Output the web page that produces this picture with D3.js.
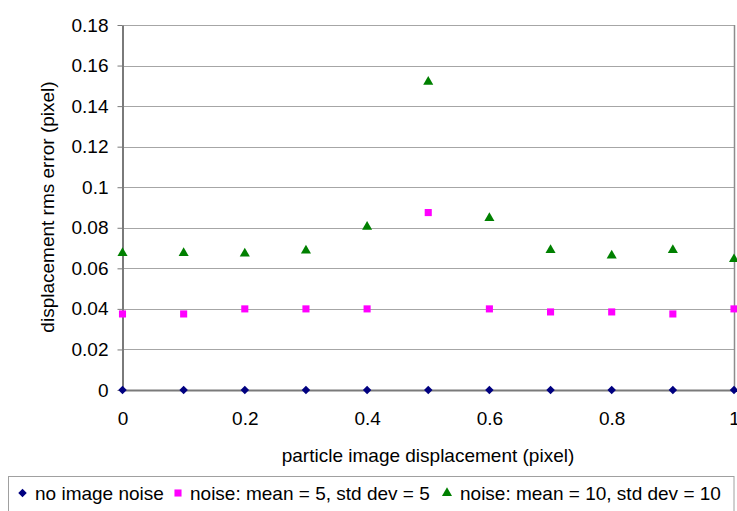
<!DOCTYPE html>
<html>
<head>
<meta charset="utf-8">
<script src="https://cdn.jsdelivr.net/npm/d3@7"></script>
<style>
  html, body { margin: 0; padding: 0; background: #fff; }
  svg { display: block; font-family: "Liberation Sans", Arial, sans-serif; }
</style>
</head>
<body>
<svg id="chart" width="737" height="511"></svg>
<script>
// Displacement values (pixel) along the x axis
const displacement = [0, 0.1, 0.2, 0.3, 0.4, 0.5, 0.6, 0.7, 0.8, 0.9, 1.0];

// RMS error for each noise condition
const noImageNoise = [0, 0, 0, 0, 0, 0, 0, 0, 0, 0, 0];
const noiseMean5   = [0.0375, 0.0375, 0.0400, 0.0400, 0.0400, 0.0875, 0.0400, 0.0385, 0.0385, 0.0375, 0.0400];
const noiseMean10  = [0.0675, 0.0675, 0.0673, 0.0688, 0.0805, 0.1520, 0.0848, 0.0690, 0.0663, 0.0690, 0.0645];

const seriesNames = ["no image noise", "noise: mean = 5, std dev = 5", "noise: mean = 10, std dev = 10"];

const yTicks = [0, 0.02, 0.04, 0.06, 0.08, 0.1, 0.12, 0.14, 0.16, 0.18];
const xTicks = [0, 0.2, 0.4, 0.6, 0.8, 1];

const svg = d3.select("#chart");
const fontSize = 19;

const x = d3.scaleLinear().domain([0, 1]).range([122.5, 734]);
const y = d3.scaleLinear().domain([0, 0.18]).range([390, 25]);

// Horizontal gridlines
svg.append("g")
  .selectAll("line")
  .data(yTicks.filter(d => d > 0))
  .join("line")
  .attr("x1", x(0)).attr("x2", x(1))
  .attr("y1", d => Math.round(y(d)) + 0.5).attr("y2", d => Math.round(y(d)) + 0.5)
  .attr("stroke", "#a6a6a6").attr("stroke-width", 1);

// Right border of the plot area
svg.append("line")
  .attr("x1", x(1) + 0.5).attr("x2", x(1) + 0.5)
  .attr("y1", y(0.18)).attr("y2", y(0) + 1)
  .attr("stroke", "#8c8c8c").attr("stroke-width", 1.5);

// Y axis
const yAxis = svg.append("g")
  .attr("transform", `translate(${x(0)},0)`)
  .call(d3.axisLeft(y).tickValues(yTicks)
    .tickFormat(d => String(+d.toFixed(2)))
    .tickSize(5).tickSizeOuter(0).tickPadding(9));
yAxis.select(".domain").attr("stroke", "#7a7a7a").attr("stroke-width", 2);
yAxis.selectAll(".tick line").attr("stroke", "#7a7a7a");
yAxis.selectAll("text").attr("font-size", fontSize).attr("fill", "#000")
  .attr("font-family", "Liberation Sans, Arial, sans-serif");

// X axis along zero
const xAxis = svg.append("g")
  .attr("transform", `translate(0,${y(0)})`)
  .call(d3.axisBottom(x).tickValues(xTicks)
    .tickFormat(d => String(+d.toFixed(1)))
    .tickSize(0).tickSizeOuter(0).tickPadding(21.5));
xAxis.select(".domain").attr("stroke", "#7a7a7a").attr("stroke-width", 2);
xAxis.selectAll("text").attr("font-size", fontSize).attr("fill", "#000")
  .attr("font-family", "Liberation Sans, Arial, sans-serif");

// Axis titles
svg.append("text")
  .attr("x", 428).attr("y", 462)
  .attr("text-anchor", "middle")
  .attr("font-size", fontSize)
  .text("particle image displacement (pixel)");

svg.append("text")
  .attr("transform", "translate(54,207) rotate(-90)")
  .attr("text-anchor", "middle")
  .attr("font-size", fontSize)
  .text("displacement rms error (pixel)");

// Marker shapes
const diamond = d3.symbol().type(d3.symbolDiamond2).size(46);
const square = d3.symbol().type(d3.symbolSquare2).size(64);
const triangle = d3.symbol().type(d3.symbolTriangle).size(44);

const series = [
  { values: noImageNoise, shape: diamond, color: "#000080" },
  { values: noiseMean5,   shape: square,  color: "#ff00ff" },
  { values: noiseMean10,  shape: triangle, color: "#008000" }
];

series.forEach(s => {
  svg.append("g")
    .selectAll("path")
    .data(displacement.map((d, i) => [d, s.values[i]]))
    .join("path")
    .attr("d", s.shape)
    .attr("transform", d => `translate(${x(d[0])},${y(d[1])})`)
    .attr("fill", s.color);
});

// Legend
const legend = svg.append("g");
legend.append("rect")
  .attr("x", 8.5).attr("y", 476.5)
  .attr("width", 725.5).attr("height", 50)
  .attr("fill", "#fff").attr("stroke", "#a0a0a0").attr("stroke-width", 1);

const legendItems = [
  { marker: 22.5, text: 35 },
  { marker: 178, text: 190 },
  { marker: 447, text: 460 }
];
legendItems.forEach((it, i) => {
  legend.append("path")
    .attr("d", series[i].shape)
    .attr("transform", `translate(${it.marker},493)`)
    .attr("fill", series[i].color);
  legend.append("text")
    .attr("x", it.text).attr("y", 499.5)
    .attr("font-size", fontSize)
    .text(seriesNames[i]);
});
</script>
</body>
</html>
